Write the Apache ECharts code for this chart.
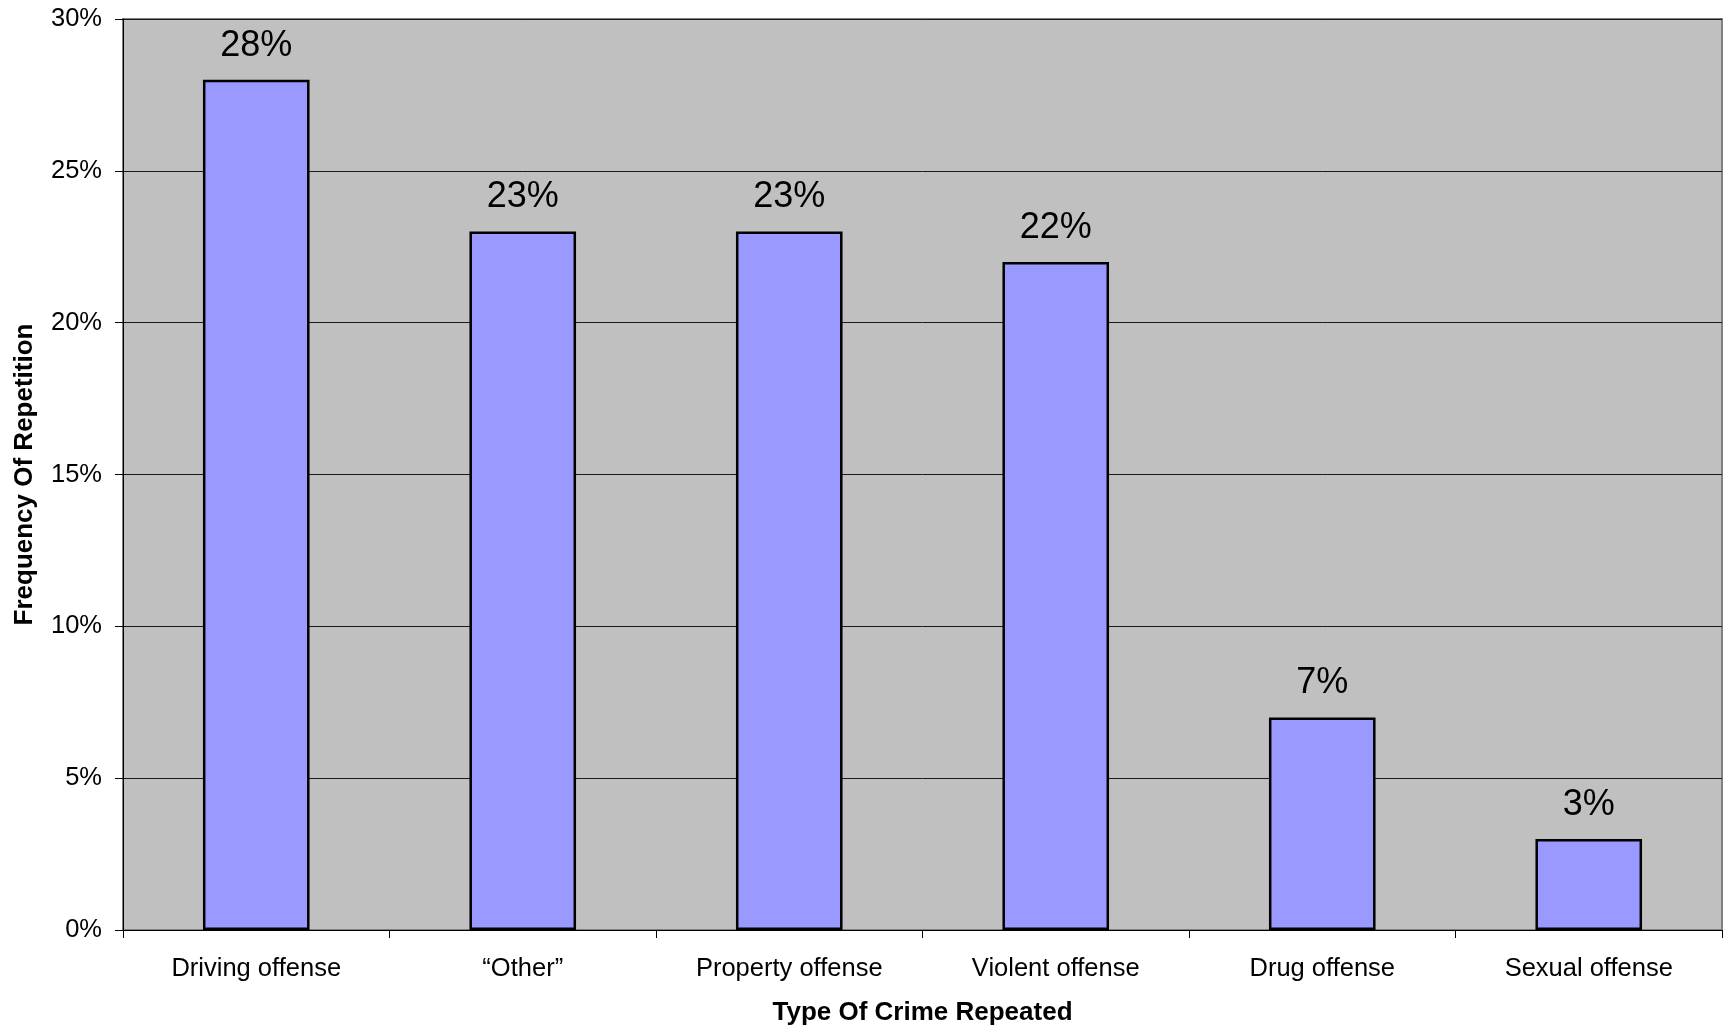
<!DOCTYPE html>
<html>
<head>
<meta charset="utf-8">
<script src="https://cdn.jsdelivr.net/npm/echarts@6/dist/echarts.min.js"></script>
<style>
html,body{margin:0;padding:0;background:#fff;}
#chart{width:1723px;height:1031px;}
</style>
</head>
<body>
<div id="chart"></div>
<script>
const categories = ["Driving offense", "\u201cOther\u201d", "Property offense", "Violent offense", "Drug offense", "Sexual offense"];
const values = [28, 23, 23, 22, 7, 3];
const yTicks = [0, 5, 10, 15, 20, 25, 30];

const chart = echarts.init(document.getElementById('chart'), null, {renderer: 'canvas'});
const FONT = '"Liberation Sans", Arial, sans-serif';
chart.setOption({
  backgroundColor: '#ffffff',
  animation: false,
  grid: {
    left: 123, top: 19, right: 1, bottom: 100,
    show: true, backgroundColor: '#C0C0C0', borderColor: '#808080', borderWidth: 2,
    containLabel: false
  },
  xAxis: {
    type: 'category',
    data: categories,
    name: 'Type Of Crime Repeated',
    nameLocation: 'middle',
    nameGap: 70,
    nameTextStyle: {fontFamily: FONT, fontSize: 26, fontWeight: 'bold', color: '#000'},
    axisLine: {show: true, lineStyle: {color: '#000', width: 1}},
    axisTick: {show: true, alignWithLabel: false, length: 8, inside: false, lineStyle: {color: '#000'}},
    axisLabel: {fontFamily: FONT, fontSize: 25.5, color: '#000', margin: 26, interval: 0},
    splitLine: {show: false}
  },
  yAxis: {
    type: 'value',
    min: yTicks[0], max: yTicks[yTicks.length - 1], interval: 5,
    name: 'Frequency Of Repetition',
    nameLocation: 'middle',
    nameGap: 85,
    nameRotate: 90,
    nameTextStyle: {fontFamily: FONT, fontSize: 26, fontWeight: 'bold', color: '#000'},
    axisLine: {show: true, lineStyle: {color: '#000', width: 1}},
    axisTick: {show: true, length: 8, inside: false, lineStyle: {color: '#000'}},
    axisLabel: {fontFamily: FONT, fontSize: 25.5, color: '#000', margin: 21, padding: [8, 0, 0, 0], formatter: '{value}%'},
    splitLine: {show: true, lineStyle: {color: '#1a1a1a', width: 1}}
  },
  series: [{
    type: 'bar',
    data: values,
    barWidth: '40%',
    itemStyle: {color: '#9999FF', borderColor: '#000', borderWidth: 2.5},
    label: {
      show: true, position: 'top', distance: 16,
      formatter: '{c}%',
      fontFamily: FONT, fontSize: 36, color: '#000'
    }
  }]
});
</script>
</body>
</html>
